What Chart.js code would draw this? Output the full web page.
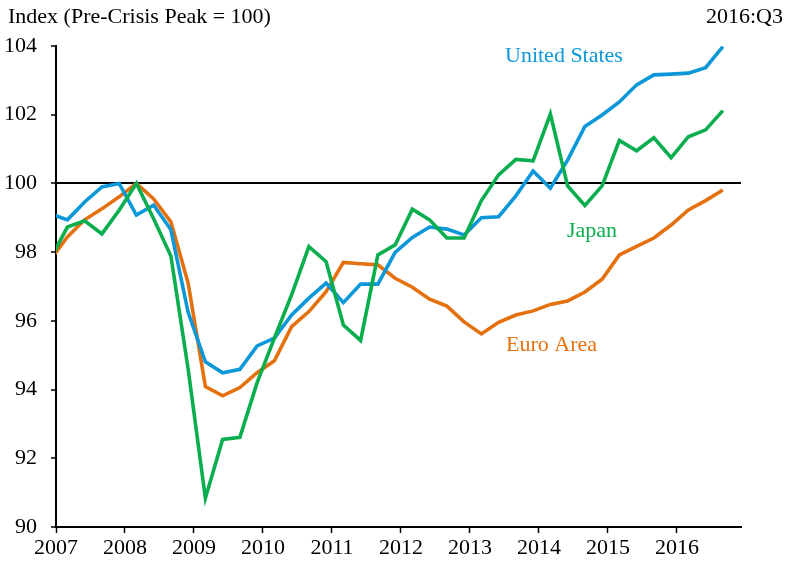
<!DOCTYPE html>
<html>
<head>
<meta charset="utf-8">
<script src="https://cdn.jsdelivr.net/npm/chart.js@4.4.1/dist/chart.umd.min.js"></script>
<style>
    body { margin: 0; background: #fff; }
    #wrap { position: relative; width: 788px; height: 561px; }
</style>
</head>
<body>
<div id="wrap"><canvas id="graph"></canvas></div>
<script>
// quarters 2006:Q4 .. 2016:Q3 (first one sits behind the axis)
const quarters = [
    '2006:Q4',
    '2007:Q1', '2007:Q2', '2007:Q3', '2007:Q4',
    '2008:Q1', '2008:Q2', '2008:Q3', '2008:Q4',
    '2009:Q1', '2009:Q2', '2009:Q3', '2009:Q4',
    '2010:Q1', '2010:Q2', '2010:Q3', '2010:Q4',
    '2011:Q1', '2011:Q2', '2011:Q3', '2011:Q4',
    '2012:Q1', '2012:Q2', '2012:Q3', '2012:Q4',
    '2013:Q1', '2013:Q2', '2013:Q3', '2013:Q4',
    '2014:Q1', '2014:Q2', '2014:Q3', '2014:Q4',
    '2015:Q1', '2015:Q2', '2015:Q3', '2015:Q4',
    '2016:Q1', '2016:Q2', '2016:Q3'
];

const unitedStates = [99.12, 98.94, 99.46, 99.90, 100.0, 99.08, 99.37, 98.65, 96.25, 94.81,
    94.49, 94.59, 95.27, 95.50, 96.17, 96.66, 97.10, 96.53, 97.07, 97.07,
    97.99, 98.43, 98.73, 98.67, 98.50, 99.00, 99.03, 99.64, 100.36, 99.86,
    100.68, 101.66, 101.99, 102.37, 102.87, 103.16, 103.18, 103.21, 103.37, 103.98];

const japan = [97.79, 98.73, 98.91, 98.53, 99.22, 100.0, 98.97, 97.89, 94.6, 90.84,
    92.55, 92.61, 94.2, 95.5, 96.76, 98.16, 97.72, 95.88, 95.43, 97.92,
    98.21, 99.25, 98.94, 98.41, 98.41, 99.50, 100.25, 100.70, 100.66, 102.02,
    99.93, 99.36, 99.93, 101.25, 100.95, 101.33, 100.75, 101.36, 101.56, 102.12];

const euroArea = [97.77, 98.44, 98.94, 99.26, 99.61, 100.0, 99.55, 98.88, 97.1, 94.09,
    93.82, 94.06, 94.49, 94.84, 95.83, 96.27, 96.85, 97.70, 97.66, 97.63,
    97.24, 96.98, 96.63, 96.43, 95.97, 95.62, 95.96, 96.17, 96.29, 96.48,
    96.58, 96.84, 97.21, 97.92, 98.17, 98.41, 98.79, 99.23, 99.50, 99.81];

const yearTicks = [2007, 2008, 2009, 2010, 2011, 2012, 2013, 2014, 2015, 2016];
const yTicks = [90, 92, 94, 96, 98, 100, 102, 104];

const colBlue = '#0C98D8';
const colGreen = '#0BAE4E';
const colOrange = '#E4700E';
const font = '"Liberation Serif", "Times New Roman", serif';

// quarter label -> position on the year axis
function quarterX(label) {
    let parts = label.split(':Q');
    return Number(parts[0]) + (Number(parts[1]) - 1) / 4 + 0.165;
}

function toPoints(values) {
    let pts = [];
    for (let i = 0; i < quarters.length; i++) {
        pts.push({x: quarterX(quarters[i]), y: values[i]});
    }
    return pts;
}

function lineSet(label, values, color) {
    return {
        label: label,
        data: toPoints(values),
        borderColor: color,
        backgroundColor: color,
        borderWidth: 3.6,
        pointRadius: 0,
        tension: 0,
        fill: false,
        clip: 0
    };
}

//texts around the chart + series names
const textPlugin = {
    id: 'texts',
    afterDraw(chart) {
        const ctx = chart.ctx;
        ctx.save();
        ctx.font = '22px ' + font;
        ctx.textBaseline = 'middle';
        ctx.fillStyle = '#000';
        ctx.textAlign = 'left';
        ctx.fillText('Index (Pre-Crisis Peak = 100)', 8, 17);
        ctx.textAlign = 'right';
        ctx.fillText('2016:Q3', 783, 17);
        ctx.textAlign = 'left';
        ctx.fillStyle = colBlue;
        ctx.fillText('United States', 505, 56);
        ctx.fillStyle = colGreen;
        ctx.fillText('Japan', 567, 231);
        ctx.fillStyle = colOrange;
        ctx.fillText('Euro Area', 506, 345);
        ctx.restore();
    }
};

let container = document.getElementById('graph');
let graph = new Chart(container, {
    type: 'line',
    data: {
        datasets: [
            lineSet('Japan', japan, colGreen),
            lineSet('United States', unitedStates, colBlue),
            lineSet('Euro Area', euroArea, colOrange)
        ]
    },
    options: {
        responsive: true,
        maintainAspectRatio: false,
        animation: false,
        layout: {
            padding: {top: 46, right: 47, left: 0, bottom: 0}
        },
        plugins: {
            legend: {display: false},
            tooltip: {enabled: false}
        },
        scales: {
            x: {
                type: 'linear',
                min: 2007,
                max: 2016.928,
                afterFit: function(scale) { scale.height = 34; },
                afterBuildTicks: function(scale) {
                    scale.ticks = yearTicks.map(v => ({value: v}));
                },
                grid: {
                    drawOnChartArea: false,
                    tickLength: 6,
                    tickColor: '#000',
                    tickWidth: 1.5
                },
                border: {display: true, color: '#000', width: 2},
                ticks: {
                    color: '#000',
                    padding: 2,
                    maxRotation: 0,
                    autoSkip: false,
                    font: {family: font, size: 22},
                    callback: v => String(v)
                }
            },
            y: {
                min: 90,
                max: 104,
                afterFit: function(scale) { scale.width = 56; },
                afterBuildTicks: function(scale) {
                    scale.ticks = yTicks.map(v => ({value: v}));
                },
                grid: {
                    color: c => (c.tick && c.tick.value === 100) ? '#000' : 'rgba(0,0,0,0)',
                    lineWidth: 2,
                    tickLength: 5,
                    tickColor: '#000',
                    tickWidth: 1.5
                },
                border: {display: true, color: '#000', width: 2},
                ticks: {
                    color: '#000',
                    padding: 14,
                    font: {family: font, size: 22},
                    callback: v => String(v)
                }
            }
        }
    },
    plugins: [textPlugin]
});
</script>
</body>
</html>
